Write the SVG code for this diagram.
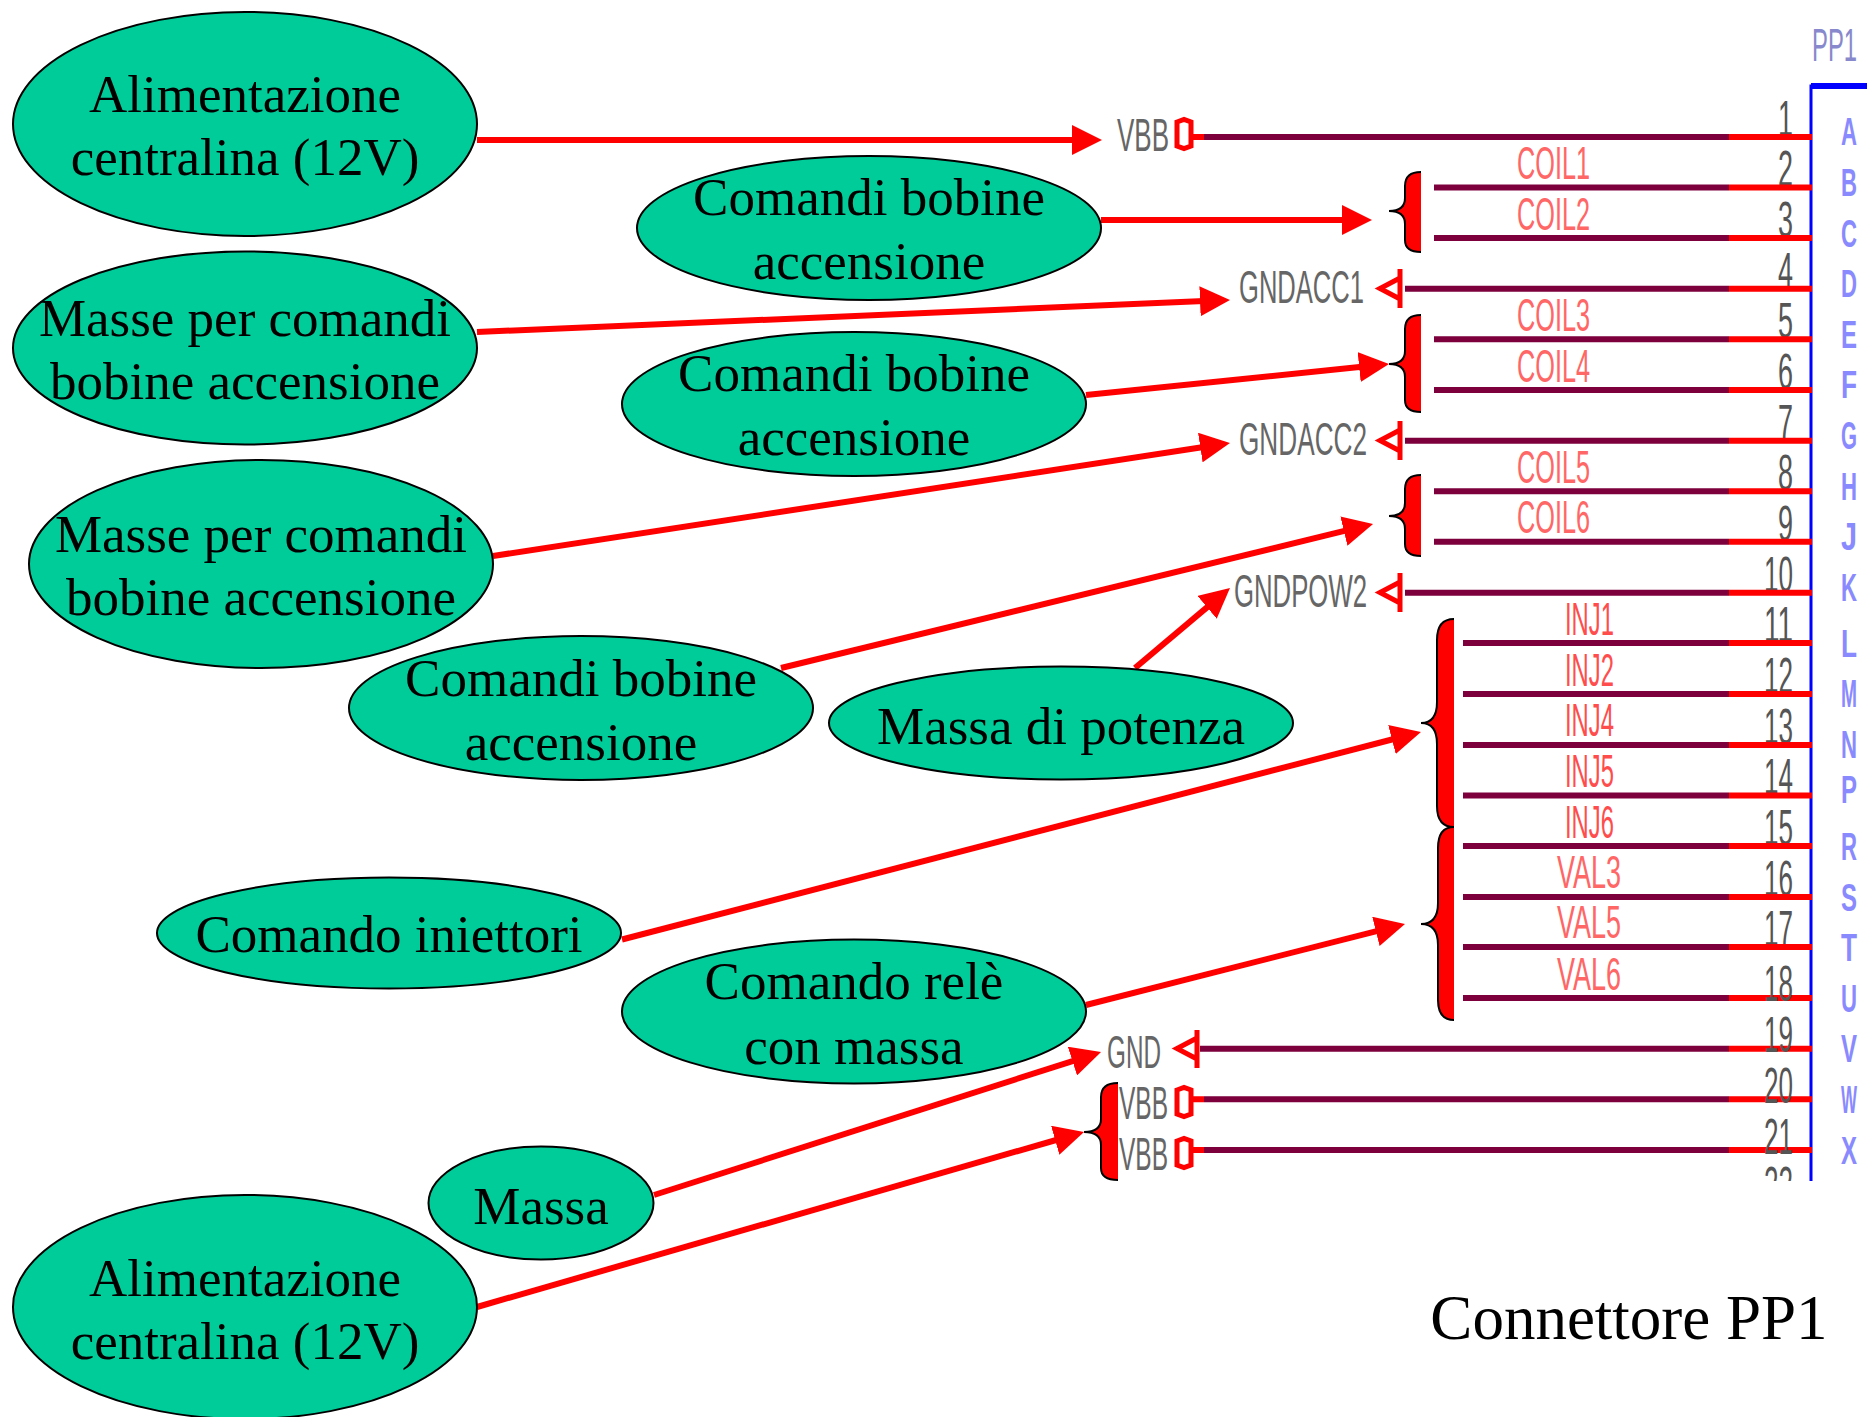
<svg xmlns="http://www.w3.org/2000/svg" width="1867" height="1417" viewBox="0 0 1867 1417">
<style>
.e{fill:#00cc99;stroke:#000;stroke-width:2}
.t{font:53px "Liberation Serif","Times New Roman",serif;fill:#000;text-anchor:middle}
.a{fill:none;stroke:#f00;stroke-width:6;marker-end:url(#h)}
.w{fill:none;stroke:#7d003c;stroke-width:6}
.r{fill:none;stroke:#f00;stroke-width:6}
.b{fill:#f00}
.bs{fill:none;stroke:#000;stroke-width:2}
.n{font-family:"Liberation Sans",Arial,sans-serif;font-size:47px;fill:#666}
.p{font-family:"Liberation Sans",Arial,sans-serif;font-size:50px;fill:#555}
.c{font-family:"Liberation Sans",Arial,sans-serif;font-size:47px;fill:#ff6666}
.i{fill:#ff4d4d}
.l{font-family:"Liberation Sans",Arial,sans-serif;font-size:39px;font-weight:bold;fill:#8a8aff}
.s{fill:none;stroke:#f00;stroke-width:5}
</style>
<defs>
<marker id="h" markerUnits="userSpaceOnUse" markerWidth="30" markerHeight="30" refX="10" refY="15" orient="auto"><path d="M0 0L30 15L0 30z" fill="#f00"/></marker>
<clipPath id="cut"><rect x="1750" y="1160" width="60" height="21"/></clipPath>
</defs>
<g id="schematic">
<text x="1812" y="61" font-family="Liberation Sans, Arial, sans-serif" font-size="47" fill="#8888cc" textLength="45" lengthAdjust="spacingAndGlyphs">PP1</text>
<path d="M1811 1181V86H1867" fill="none" stroke="#00f" stroke-width="3"/>
<path d="M1811 86H1867" fill="none" stroke="#00f" stroke-width="6"/>
<g id="pin-numbers">
<text class="p" x="1778" y="136" textLength="15" lengthAdjust="spacingAndGlyphs">1</text>
<text class="p" x="1778" y="186" textLength="15" lengthAdjust="spacingAndGlyphs">2</text>
<text class="p" x="1778" y="237" textLength="15" lengthAdjust="spacingAndGlyphs">3</text>
<text class="p" x="1778" y="288" textLength="15" lengthAdjust="spacingAndGlyphs">4</text>
<text class="p" x="1778" y="338" textLength="15" lengthAdjust="spacingAndGlyphs">5</text>
<text class="p" x="1778" y="389" textLength="15" lengthAdjust="spacingAndGlyphs">6</text>
<text class="p" x="1778" y="440" textLength="15" lengthAdjust="spacingAndGlyphs">7</text>
<text class="p" x="1778" y="490" textLength="15" lengthAdjust="spacingAndGlyphs">8</text>
<text class="p" x="1778" y="541" textLength="15" lengthAdjust="spacingAndGlyphs">9</text>
<text class="p" x="1764" y="592" textLength="29" lengthAdjust="spacingAndGlyphs">10</text>
<text class="p" x="1764" y="642" textLength="29" lengthAdjust="spacingAndGlyphs">11</text>
<text class="p" x="1764" y="693" textLength="29" lengthAdjust="spacingAndGlyphs">12</text>
<text class="p" x="1764" y="744" textLength="29" lengthAdjust="spacingAndGlyphs">13</text>
<text class="p" x="1764" y="794" textLength="29" lengthAdjust="spacingAndGlyphs">14</text>
<text class="p" x="1764" y="845" textLength="29" lengthAdjust="spacingAndGlyphs">15</text>
<text class="p" x="1764" y="896" textLength="29" lengthAdjust="spacingAndGlyphs">16</text>
<text class="p" x="1764" y="946" textLength="29" lengthAdjust="spacingAndGlyphs">17</text>
<text class="p" x="1764" y="1202" textLength="29" lengthAdjust="spacingAndGlyphs" clip-path="url(#cut)">22</text>
</g>
<g id="pin-letters">
<text class="l" x="1841" y="145" textLength="16" lengthAdjust="spacingAndGlyphs">A</text>
<text class="l" x="1841" y="196" textLength="16" lengthAdjust="spacingAndGlyphs">B</text>
<text class="l" x="1841" y="247" textLength="16" lengthAdjust="spacingAndGlyphs">C</text>
<text class="l" x="1841" y="297" textLength="16" lengthAdjust="spacingAndGlyphs">D</text>
<text class="l" x="1841" y="348" textLength="16" lengthAdjust="spacingAndGlyphs">E</text>
<text class="l" x="1841" y="398" textLength="16" lengthAdjust="spacingAndGlyphs">F</text>
<text class="l" x="1841" y="449" textLength="16" lengthAdjust="spacingAndGlyphs">G</text>
<text class="l" x="1841" y="500" textLength="16" lengthAdjust="spacingAndGlyphs">H</text>
<text class="l" x="1841" y="550" textLength="16" lengthAdjust="spacingAndGlyphs">J</text>
<text class="l" x="1841" y="601" textLength="16" lengthAdjust="spacingAndGlyphs">K</text>
<text class="l" x="1841" y="657" textLength="16" lengthAdjust="spacingAndGlyphs">L</text>
<text class="l" x="1841" y="707" textLength="16" lengthAdjust="spacingAndGlyphs">M</text>
<text class="l" x="1841" y="758" textLength="16" lengthAdjust="spacingAndGlyphs">N</text>
<text class="l" x="1841" y="803" textLength="16" lengthAdjust="spacingAndGlyphs">P</text>
<text class="l" x="1841" y="860" textLength="16" lengthAdjust="spacingAndGlyphs">R</text>
<text class="l" x="1841" y="911" textLength="16" lengthAdjust="spacingAndGlyphs">S</text>
<text class="l" x="1841" y="961" textLength="16" lengthAdjust="spacingAndGlyphs">T</text>
<text class="l" x="1841" y="1012" textLength="16" lengthAdjust="spacingAndGlyphs">U</text>
<text class="l" x="1841" y="1062" textLength="16" lengthAdjust="spacingAndGlyphs">V</text>
<text class="l" x="1841" y="1113" textLength="16" lengthAdjust="spacingAndGlyphs">W</text>
<text class="l" x="1841" y="1164" textLength="16" lengthAdjust="spacingAndGlyphs">X</text>
</g>
<g id="signal-labels">
<text class="n" x="1117" y="151" textLength="52" lengthAdjust="spacingAndGlyphs">VBB</text>
<text class="n" x="1239" y="303" textLength="125" lengthAdjust="spacingAndGlyphs">GNDACC1</text>
<text class="n" x="1239" y="455" textLength="128" lengthAdjust="spacingAndGlyphs">GNDACC2</text>
<text class="n" x="1234" y="607" textLength="133" lengthAdjust="spacingAndGlyphs">GNDPOW2</text>
<text class="n" x="1107" y="1068" textLength="54" lengthAdjust="spacingAndGlyphs">GND</text>
<text class="n" x="1119" y="1119" textLength="49" lengthAdjust="spacingAndGlyphs">VBB</text>
<text class="n" x="1119" y="1170" textLength="49" lengthAdjust="spacingAndGlyphs">VBB</text>
<text class="c" x="1517" y="179" textLength="73" lengthAdjust="spacingAndGlyphs">COIL1</text>
<text class="c" x="1517" y="230" textLength="73" lengthAdjust="spacingAndGlyphs">COIL2</text>
<text class="c" x="1517" y="331" textLength="73" lengthAdjust="spacingAndGlyphs">COIL3</text>
<text class="c" x="1517" y="382" textLength="73" lengthAdjust="spacingAndGlyphs">COIL4</text>
<text class="c" x="1517" y="483" textLength="73" lengthAdjust="spacingAndGlyphs">COIL5</text>
<text class="c" x="1517" y="533" textLength="73" lengthAdjust="spacingAndGlyphs">COIL6</text>
<text class="c i" x="1565" y="635" textLength="49" lengthAdjust="spacingAndGlyphs">INJ1</text>
<text class="c i" x="1565" y="686" textLength="49" lengthAdjust="spacingAndGlyphs">INJ2</text>
<text class="c i" x="1565" y="736" textLength="49" lengthAdjust="spacingAndGlyphs">INJ4</text>
<text class="c i" x="1565" y="787" textLength="49" lengthAdjust="spacingAndGlyphs">INJ5</text>
<text class="c i" x="1565" y="838" textLength="49" lengthAdjust="spacingAndGlyphs">INJ6</text>
<text class="c" x="1557" y="888" textLength="64" lengthAdjust="spacingAndGlyphs">VAL3</text>
<text class="c" x="1557" y="938" textLength="64" lengthAdjust="spacingAndGlyphs">VAL5</text>
<text class="c" x="1557" y="990" textLength="64" lengthAdjust="spacingAndGlyphs">VAL6</text>
</g>
<g id="terminals">
<path class="s" d="M1177 122L1184 119.500L1191 122V146L1184 148.500L1177 146Z"/>
<path class="s" d="M1177 1090L1184 1087.500L1191 1090V1114L1184 1116.500L1177 1114Z"/>
<path class="s" d="M1177 1141L1184 1138.500L1191 1141V1165L1184 1167.500L1177 1165Z"/>
<path class="s" d="M1400 269V308M1400 278L1380 288.500L1400 299"/>
<path class="s" d="M1400 421V460M1400 430L1380 440.500L1400 451"/>
<path class="s" d="M1400 573V612M1400 582L1380 592.500L1400 603"/>
<path class="s" d="M1197 1030V1068M1197 1038L1177 1048.500L1197 1059"/>
</g>
<g id="braces">
<path class="b" d="M1421 172Q1405 172 1405 186V198Q1405 211 1389 211Q1405 211 1405 224V240Q1405 252 1421 252Z"/>
<path class="bs" d="M1421 172Q1405 172 1405 186V198Q1405 211 1389 211Q1405 211 1405 224V240Q1405 252 1421 252"/>
<path class="b" d="M1421 315Q1405 315 1405 329V351Q1405 364 1389 364Q1405 364 1405 377V400Q1405 412 1421 412Z"/>
<path class="bs" d="M1421 315Q1405 315 1405 329V351Q1405 364 1389 364Q1405 364 1405 377V400Q1405 412 1421 412"/>
<path class="b" d="M1421 475Q1405 475 1405 489V503Q1405 516 1389 516Q1405 516 1405 529V544Q1405 556 1421 556Z"/>
<path class="bs" d="M1421 475Q1405 475 1405 489V503Q1405 516 1389 516Q1405 516 1405 529V544Q1405 556 1421 556"/>
<path class="b" d="M1454 619Q1437 619 1437 640V702Q1437 723 1421 723Q1437 723 1437 744V806Q1437 827 1454 827Z"/>
<path class="bs" d="M1454 619Q1437 619 1437 640V702Q1437 723 1421 723Q1437 723 1437 744V806Q1437 827 1454 827"/>
<path class="b" d="M1454 827Q1438 827 1438 848V903Q1438 924 1421 924Q1438 924 1438 945V1000Q1438 1020 1454 1020Z"/>
<path class="bs" d="M1454 827Q1438 827 1438 848V903Q1438 924 1421 924Q1438 924 1438 945V1000Q1438 1020 1454 1020"/>
<path class="b" d="M1118 1083Q1101 1083 1101 1097V1119Q1101 1132 1084 1132Q1101 1132 1101 1145V1168Q1101 1180 1118 1180Z"/>
<path class="bs" d="M1118 1083Q1101 1083 1101 1097V1119Q1101 1132 1084 1132Q1101 1132 1101 1145V1168Q1101 1180 1118 1180"/>
</g>
</g>
<g id="connectors">
<g id="wires">
<path class="w" d="M1203 137H1729M1434 187.500H1729M1434 238H1729M1405 288.700H1729M1434 339.300H1729M1434 390H1729M1405 440.700H1729M1434 491.300H1729M1434 541.700H1729M1405 592.700H1729M1463 643H1729M1463 694H1729M1463 745H1729M1463 795.500H1729M1463 846H1729M1463 897H1729M1463 947H1729M1463 998H1729M1200 1048.700H1729M1204 1099.300H1729M1204 1150H1729"/>
<path class="r" d="M1729 137H1812M1729 187.500H1812M1729 238H1812M1729 288.700H1812M1729 339.300H1812M1729 390H1812M1729 440.700H1812M1729 491.300H1812M1729 541.700H1812M1729 592.700H1812M1729 643H1812M1729 694H1812M1729 745H1812M1729 795.500H1812M1729 846H1812M1729 897H1812M1729 947H1812M1729 998H1812M1729 1048.700H1812M1729 1099.300H1812M1729 1150H1812"/>
<path class="r" d="M1193 137H1204M1193 1099.300H1204M1193 1150H1204"/>
</g>
<g id="arrows">
<path class="a" d="M477 140L1082 140"/>
<path class="a" d="M1101 220L1352 220"/>
<path class="a" d="M477 332L1210 300.850"/>
<path class="a" d="M1086 395L1369.100 366"/>
<path class="a" d="M493 556L1210.200 446"/>
<path class="a" d="M781 668L1353.600 528.700"/>
<path class="a" d="M1135 668L1214.700 600.900"/>
<path class="a" d="M622 939.500L1401.600 737"/>
<path class="a" d="M1086 1005L1385.600 928.900"/>
<path class="a" d="M654 1195L1082 1058.100"/>
<path class="a" d="M477 1307L1064.800 1137.500"/>
</g>
</g>
<g id="pin-numbers-top">
<text class="p" x="1764" y="1001" textLength="29" lengthAdjust="spacingAndGlyphs">18</text>
<text class="p" x="1764" y="1052" textLength="29" lengthAdjust="spacingAndGlyphs">19</text>
<text class="p" x="1764" y="1103" textLength="29" lengthAdjust="spacingAndGlyphs">20</text>
<text class="p" x="1764" y="1154" textLength="29" lengthAdjust="spacingAndGlyphs">21</text>
</g>
<g id="n1"><ellipse class="e" cx="245" cy="124" rx="232" ry="112"/><text class="t" x="245" y="112">Alimentazione</text><text class="t" x="245" y="175">centralina (12V)</text></g>
<g id="n2"><ellipse class="e" cx="869" cy="228" rx="232" ry="72"/><text class="t" x="869" y="215">Comandi bobine</text><text class="t" x="869" y="279">accensione</text></g>
<g id="n3"><ellipse class="e" cx="245" cy="348" rx="232" ry="96.500"/><text class="t" x="245" y="336">Masse per comandi</text><text class="t" x="245" y="399">bobine accensione</text></g>
<g id="n4"><ellipse class="e" cx="854" cy="404" rx="232" ry="72"/><text class="t" x="854" y="391">Comandi bobine</text><text class="t" x="854" y="455">accensione</text></g>
<g id="n5"><ellipse class="e" cx="261" cy="564" rx="232" ry="104"/><text class="t" x="261" y="552">Masse per comandi</text><text class="t" x="261" y="615">bobine accensione</text></g>
<g id="n6"><ellipse class="e" cx="581" cy="708" rx="232" ry="72"/><text class="t" x="581" y="696">Comandi bobine</text><text class="t" x="581" y="760">accensione</text></g>
<g id="n7"><ellipse class="e" cx="1061" cy="723" rx="232" ry="56.500"/><text class="t" x="1061" y="744">Massa di potenza</text></g>
<g id="n8"><ellipse class="e" cx="389" cy="933" rx="232" ry="55.500"/><text class="t" x="389" y="952">Comando iniettori</text></g>
<g id="n9"><ellipse class="e" cx="854" cy="1011.500" rx="232" ry="72"/><text class="t" x="854" y="999">Comando relè</text><text class="t" x="854" y="1064">con massa</text></g>
<g id="n10"><ellipse class="e" cx="541" cy="1203" rx="112.500" ry="56.500"/><text class="t" x="541" y="1224">Massa</text></g>
<g id="n11"><ellipse class="e" cx="245" cy="1307" rx="232" ry="112"/><text class="t" x="245" y="1296">Alimentazione</text><text class="t" x="245" y="1359">centralina (12V)</text></g>
<text class="t" x="1629" y="1339" style="font-size:63px">Connettore PP1</text>
</svg>
